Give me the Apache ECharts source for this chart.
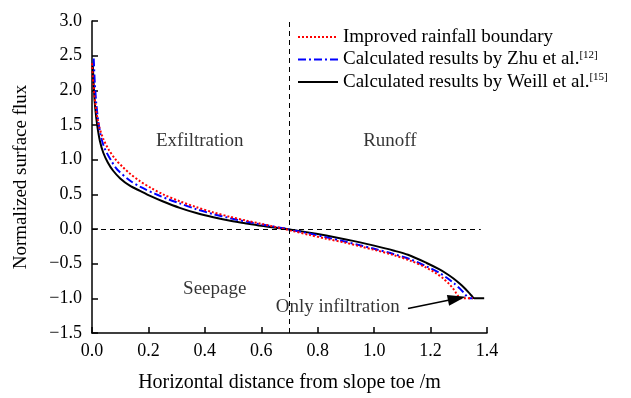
<!DOCTYPE html>
<html>
<head>
<meta charset="utf-8">
<script src="https://cdn.jsdelivr.net/npm/echarts@6/dist/echarts.min.js"></script>
<style>
html,body{margin:0;padding:0;background:#fff;}
#c{width:631px;height:398px;}
</style>
</head>
<body>
<div id="c"></div>
<script>
// Improved rainfall boundary (red dotted)
var xImproved = [0.0,0.005,0.012,0.024,0.04,0.06,0.084,0.11,0.134,0.17,0.21,0.252,0.311,0.37,0.43,0.49,0.548,0.6,0.666,0.713,0.77,0.83,0.9,0.95,1.0,1.068,1.13,1.186,1.22,1.245,1.265,1.28,1.29,1.298,1.305,1.35];
var yImproved = [2.39,2.08,1.8,1.5,1.3,1.14,1.0,0.89,0.8,0.69,0.59,0.5,0.4,0.315,0.24,0.175,0.12,0.075,0.015,-0.03,-0.085,-0.14,-0.2,-0.25,-0.3,-0.375,-0.46,-0.56,-0.64,-0.715,-0.79,-0.86,-0.92,-0.97,-1.0,-1.0];
// Calculated results by Zhu et al. (blue dash-dot)
var xZhu = [0.006,0.01,0.015,0.022,0.032,0.045,0.069,0.09,0.134,0.17,0.222,0.27,0.311,0.37,0.43,0.49,0.548,0.6,0.666,0.71,0.77,0.83,0.9,0.95,1.0,1.068,1.13,1.186,1.23,1.26,1.285,1.304,1.318,1.328,1.335,1.35];
var yZhu = [2.46,2.1,1.82,1.56,1.33,1.16,0.98,0.855,0.7,0.61,0.51,0.43,0.37,0.285,0.215,0.155,0.105,0.065,0.02,-0.015,-0.065,-0.12,-0.185,-0.235,-0.285,-0.36,-0.44,-0.54,-0.63,-0.71,-0.79,-0.86,-0.92,-0.97,-1.0,-1.0];
// Calculated results by Weill et al. (black solid)
var xWeill = [0.003,0.007,0.012,0.019,0.028,0.04,0.056,0.075,0.1,0.134,0.17,0.21,0.25,0.311,0.37,0.43,0.49,0.548,0.6,0.666,0.7,0.76,0.83,0.9,0.95,1.0,1.068,1.12,1.186,1.23,1.257,1.28,1.304,1.32,1.334,1.345,1.355,1.39];
var yWeill = [2.35,2.0,1.72,1.48,1.27,1.1,0.96,0.84,0.73,0.625,0.55,0.47,0.4,0.305,0.23,0.17,0.12,0.08,0.047,0.012,-0.006,-0.045,-0.095,-0.15,-0.193,-0.24,-0.31,-0.372,-0.49,-0.58,-0.645,-0.71,-0.79,-0.85,-0.91,-0.96,-1.0,-1.0];

var seriesNames = ['Improved rainfall boundary','Calculated results by Zhu et al.','Calculated results by Weill et al.'];
var seriesRefs = ['', '[12]', '[15]'];

var annoText = ['Exfiltration','Runoff','Seepage','Only infiltration'];
var annoX = [0.382,1.056,0.435,0.871];
var annoY = [1.275,1.275,-0.86,-1.13];

var arrowFrom = [1.12,-1.146];
var arrowTo = [1.293,-1.003];
var vLineX = 0.7;
var hLineEnd = 1.378;

function pairs(xs, ys){ return xs.map(function(x,i){ return [x, ys[i]]; }); }

var FONT = "'Liberation Serif','Times New Roman',serif";
var chart = echarts.init(document.getElementById('c'), null, {renderer:'canvas'});

var option = {
  backgroundColor:'#fff',
  animation:false,
  textStyle:{fontFamily:FONT,color:'#000'},
  grid:{left:92,right:144,top:21,bottom:63,containLabel:false},
  legend:{
    data: seriesNames,
    orient:'vertical',
    left:297, top:27, padding:0,
    itemWidth:40, itemHeight:14, itemGap:2.5,
    itemStyle:{opacity:0},
    textStyle:{fontFamily:FONT,color:'#000',fontSize:19,lineHeight:20,
      rich:{
        n:{fontFamily:FONT,fontSize:19,color:'#000',lineHeight:20},
        s:{fontFamily:FONT,fontSize:11,color:'#000',verticalAlign:'top'}
      }
    },
    formatter:function(name){
      var i = seriesNames.indexOf(name);
      return '{n|'+name+'}' + (seriesRefs[i] ? '{s|'+seriesRefs[i]+'}' : '');
    }
  },
  xAxis:{
    type:'value', min:0, max:1.4, interval:0.2,
    name:'Horizontal distance from slope toe /m',
    nameLocation:'middle', nameGap:40,
    nameTextStyle:{fontFamily:FONT,fontSize:20,color:'#000'},
    axisLine:{onZero:false,lineStyle:{color:'#000',width:1.5}},
    axisTick:{inside:true,length:6,lineStyle:{color:'#000',width:1.5}},
    axisLabel:{fontFamily:FONT,fontSize:18,color:'#000',margin:9,
      formatter:function(v){return v.toFixed(1);}},
    splitLine:{show:false}
  },
  yAxis:{
    type:'value', min:-1.5, max:3.0, interval:0.5,
    name:'Normalized surface flux',
    nameLocation:'middle', nameGap:61,
    nameTextStyle:{fontFamily:FONT,fontSize:19,color:'#000'},
    axisLine:{show:true,onZero:false,lineStyle:{color:'#000',width:1.5}},
    axisTick:{show:true,inside:true,length:6,lineStyle:{color:'#000',width:1.5}},
    axisLabel:{fontFamily:FONT,fontSize:18,color:'#000',margin:10,
      formatter:function(v){var s=Math.abs(v).toFixed(1); return (v<0?'\u2212':'')+s;}},
    splitLine:{show:false}
  },
  series:[
    {
      name:seriesNames[2], type:'line', data:pairs(xWeill,yWeill),
      symbol:'none', smooth:0.3, z:2,
      lineStyle:{color:'#000',width:2,type:'solid'},
      itemStyle:{color:'#000'},
      markLine:{
        silent:true, symbol:['none','none'], label:{show:false},
        lineStyle:{color:'#000',width:1,type:[5,4]},
        data:[
          [{coord:[vLineX,-1.5]},{coord:[vLineX,3.0]}],
          [{coord:[0,0]},{coord:[hLineEnd,0]}]
        ]
      }
    },
    {
      name:seriesNames[1], type:'line', data:pairs(xZhu,yZhu),
      symbol:'none', smooth:0.3, z:3,
      lineStyle:{color:'#0000ff',width:2,type:[8,3,2,3]},
      itemStyle:{color:'#0000ff'}
    },
    {
      name:seriesNames[0], type:'line', data:pairs(xImproved,yImproved),
      symbol:'none', smooth:0.3, z:4,
      lineStyle:{color:'#ff0000',width:2,type:[2,2]},
      itemStyle:{color:'#ff0000'}
    },
    {
      name:'annotations', type:'scatter', symbolSize:0, z:5, silent:true,
      data: annoText.map(function(t,i){ return {name:t, value:[annoX[i],annoY[i]]}; }),
      label:{show:true,position:'inside',formatter:'{b}',fontFamily:FONT,fontSize:19,color:'#000'},
      markLine:{
        silent:true, symbol:['none','triangle'], symbolSize:[11,18], label:{show:false},
        lineStyle:{color:'#000',width:1.5,type:'solid'},
        itemStyle:{color:'#000'},
        data:[[{coord:arrowFrom},{coord:arrowTo}]]
      }
    }
  ]
};
chart.setOption(option);
</script>
</body>
</html>
